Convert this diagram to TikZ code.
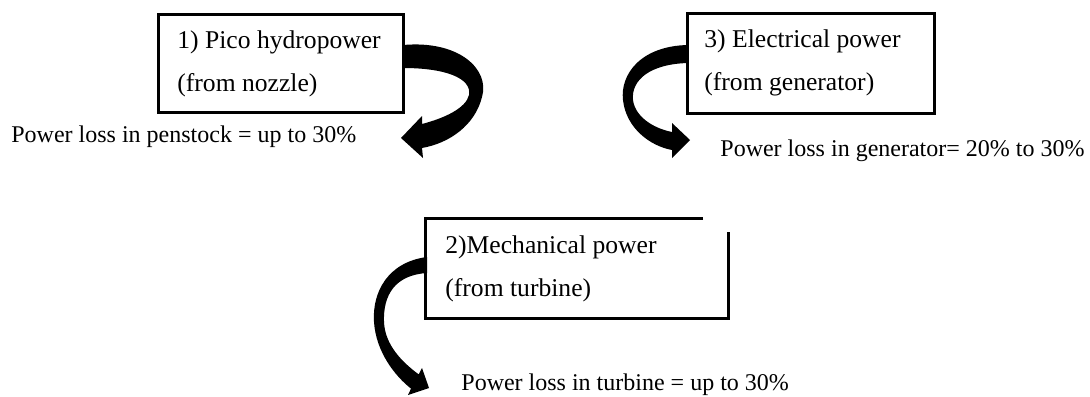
\documentclass[tikz,border=0pt]{standalone}
\usepackage{fontspec}
\setmainfont{Liberation Serif}
\begin{document}
\begin{tikzpicture}[x=0.5pt,y=-0.5pt,
  boxline/.style={draw,line width=1.5pt},
  boxtext/.style={anchor=base west,inner sep=0pt,font=\fontsize{12.8}{15}\selectfont},
  losstext/.style={anchor=base west,inner sep=0pt,font=\fontsize{12}{14}\selectfont},
  bigarrow/.style={fill=black}]
\useasboundingbox (0,0) rectangle (1090,396);
% boxes
\node[boxline,anchor=north west,minimum width=122.5pt,minimum height=49pt,inner sep=0pt] (b1) at (157,13) {};
\node[boxline,anchor=north west,minimum width=123.5pt,minimum height=50pt,inner sep=0pt] (b3) at (686,12) {};
\coordinate (b2nw) at (425,218);
\coordinate (b2te) at (703,218);
\coordinate (b2rt) at (728,232);
\coordinate (b2se) at (728,318);
\coordinate (b2sw) at (425,318);
\draw[line width=1.5pt] (b2te) -- (b2nw) -- (b2sw) -- (b2se) -- (b2rt);
% box texts
\node[boxtext] (t1a) at (177,48) {1) Pico hydropower};
\node[boxtext] (t1b) at (177,91) {(from nozzle)};
\node[boxtext] (t3a) at (704,47) {3) Electrical power};
\node[boxtext] (t3b) at (704,90) {(from generator)};
\node[boxtext] (t2a) at (445,253) {2)Mechanical power};
\node[boxtext] (t2b) at (445,296) {(from turbine)};
% loss texts
\node[losstext] (l1) at (11,142) {Power loss in penstock = up to 30\%};
\node[losstext] (l3) at (720,156) {Power loss in generator= 20\% to 30\%};
\node[losstext] (l2) at (461,390) {Power loss in turbine = up to 30\%};
% curved arrows
\fill[bigarrow] (403,45) .. controls (460,40) and (490,70) .. (482,97)
  .. controls (475,125) and (450,143) .. (422,148) -- (423,158) -- (401,138) -- (422,116) -- (422,124)
  .. controls (445,118) and (466,108) .. (469,95) .. controls (472,78) and (445,68) .. (403,68) -- cycle;
\fill[bigarrow] (688,45) .. controls (640,46) and (620,75) .. (623,100)
  .. controls (626,128) and (650,146) .. (672,150) -- (672,158) -- (690,140) -- (672,123) -- (672,132)
  .. controls (652,128) and (635,116) .. (633,100) .. controls (631,80) and (650,64) .. (688,63) -- cycle;
\fill[bigarrow] (427,257) .. controls (388,262) and (372,292) .. (374,322)
  .. controls (376,352) and (395,376) .. (411,388.6) -- (408,395) -- (429,388) -- (422,368) -- (418.7,374.4)
  .. controls (402,362) and (385,345) .. (384,322) .. controls (383,295) and (395,275) .. (427,273) -- cycle;
\end{tikzpicture}
\end{document}
